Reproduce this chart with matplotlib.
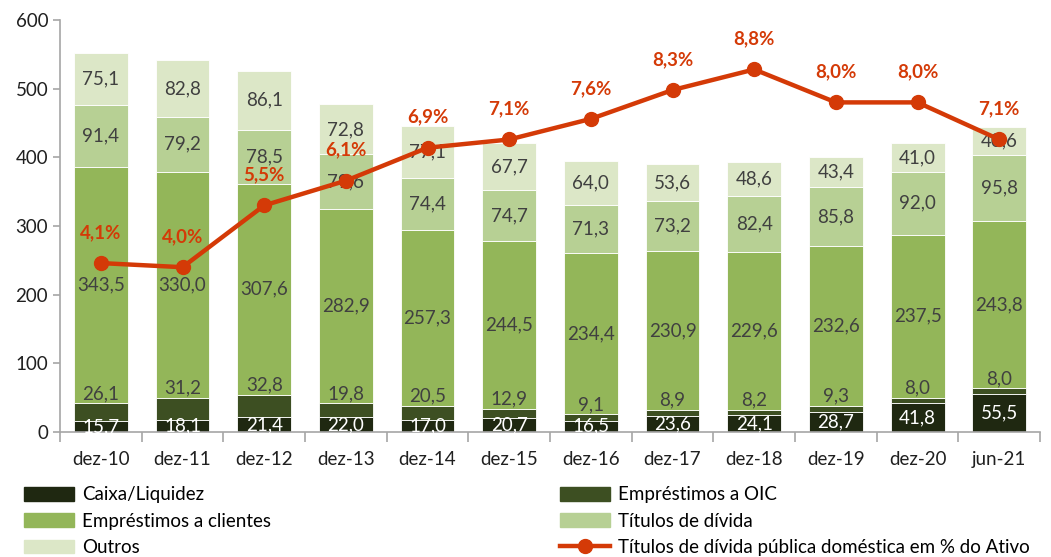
import numpy as np
import matplotlib
matplotlib.use("Agg")
import matplotlib.pyplot as plt
from matplotlib.lines import Line2D
from matplotlib.patches import Patch

# dados (mil milhões de euros)
periodos = ["dez-10", "dez-11", "dez-12", "dez-13", "dez-14", "dez-15",
            "dez-16", "dez-17", "dez-18", "dez-19", "dez-20", "jun-21"]
caixa = [15.7, 18.1, 21.4, 22.0, 17.0, 20.7, 16.5, 23.6, 24.1, 28.7, 41.8, 55.5]
emp_oic = [26.1, 31.2, 32.8, 19.8, 20.5, 12.9, 9.1, 8.9, 8.2, 9.3, 8.0, 8.0]
emp_clientes = [343.5, 330.0, 307.6, 282.9, 257.3, 244.5, 234.4, 230.9, 229.6, 232.6, 237.5, 243.8]
titulos = [91.4, 79.2, 78.5, 79.6, 74.4, 74.7, 71.3, 73.2, 82.4, 85.8, 92.0, 95.8]
outros = [75.1, 82.8, 86.1, 72.8, 77.1, 67.7, 64.0, 53.6, 48.6, 43.4, 41.0, 40.6]
divida_pub_pct = [4.1, 4.0, 5.5, 6.1, 6.9, 7.1, 7.6, 8.3, 8.8, 8.0, 8.0, 7.1]

series = [("Caixa/Liquidez", caixa, "#1f2811"),
          ("Empréstimos a OIC", emp_oic, "#3d4f22"),
          ("Empréstimos a clientes", emp_clientes, "#93b659"),
          ("Títulos de dívida", titulos, "#b7d094"),
          ("Outros", outros, "#dce7c7")]
cor_linha = "#d43a07"
cinza = "#404040"

plt.rcParams['font.family'] = ['Lato', 'DejaVu Sans']

fig = plt.figure(figsize=(10.51, 5.57), dpi=100)
ax = fig.add_axes([0.0571, 0.2244, 0.9325, 0.7397])

x = np.arange(len(periodos))
base = np.zeros(len(periodos))
for nome, vals, cor in series:
    vals = np.array(vals)
    ax.bar(x, vals, 0.66, bottom=base, color=cor, edgecolor="white", linewidth=0.6)
    for xi, b, v in zip(x, base, vals):
        txt = f"{v:.1f}".replace(".", ",")
        if nome == "Caixa/Liquidez":
            ax.text(xi, b + v / 2, txt, ha="center", va="center", color="white", fontsize=13.5)
        elif nome == "Empréstimos a OIC":
            ax.annotate(txt, (xi, b + v), xytext=(0, 1), textcoords="offset points",
                        ha="center", va="bottom", color=cinza, fontsize=13.5)
        else:
            ax.text(xi, b + v / 2, txt, ha="center", va="center", color=cinza, fontsize=13.5)
    base = base + vals

ax.set_ylim(0, 600)
ax.set_xlim(-0.5, len(periodos) - 0.5)
ax.set_yticks(range(0, 601, 100))
ax.set_xticks(x)
ax.set_xticklabels(periodos, fontsize=13.5, color="#202020")
ax.tick_params(axis="x", length=0, pad=14)
ax.set_xticks(np.arange(-0.5, len(periodos), 1), minor=True)
ax.tick_params(axis="x", which="minor", length=7, color="#a6a6a6", width=1.2)
ax.tick_params(axis="y", labelsize=13.5, labelcolor="#202020", length=5, color="#a6a6a6", width=1.2)
for s in ["top", "right"]:
    ax.spines[s].set_visible(False)
for s in ["left", "bottom"]:
    ax.spines[s].set_color("#a6a6a6")
    ax.spines[s].set_linewidth(1.2)

ax2 = ax.twinx()
ax2.set_ylim(0, 10)
ax2.plot(x, divida_pub_pct, color=cor_linha, lw=3.2, marker="o", ms=10)
for xi, p in zip(x, divida_pub_pct):
    ax2.annotate(f"{p:.1f}%".replace(".", ","), (xi, p), xytext=(0, 22), textcoords="offset points",
                 ha="center", va="center", color=cor_linha, fontsize=13.5, fontweight="bold")
ax2.axis("off")

handles = [Patch(color=series[0][2]), Patch(color=series[2][2]), Patch(color=series[4][2]),
           Patch(color=series[1][2]), Patch(color=series[3][2]),
           Line2D([], [], color=cor_linha, lw=3.2, marker="o", ms=10)]
labels = [series[0][0], series[2][0], series[4][0], series[1][0], series[3][0],
          "Títulos de dívida pública doméstica em % do Ativo"]
fig.legend(handles, labels, ncol=2, loc="lower left", bbox_to_anchor=(0.01, -0.022),
           frameon=False, fontsize=13.5, handlelength=2.7, handleheight=0.75,
           handletextpad=0.4, columnspacing=15.4, labelspacing=0.5, borderpad=0.2)

fig.savefig("out.png", dpi=100)
